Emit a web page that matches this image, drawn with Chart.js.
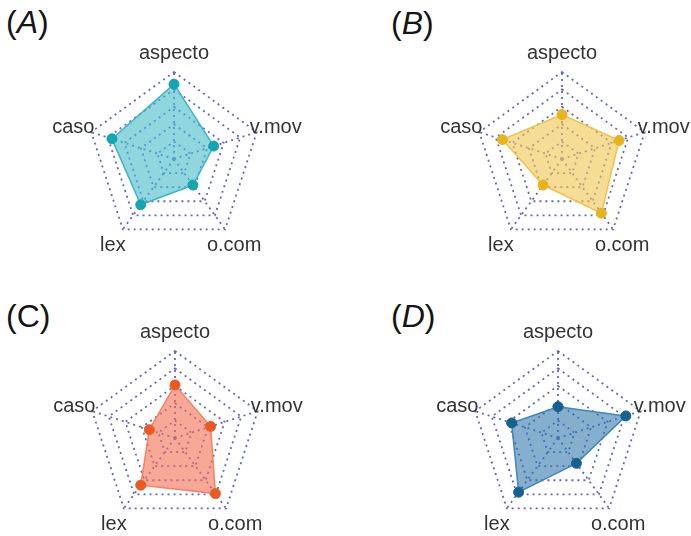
<!DOCTYPE html>
<html>
<head>
<meta charset="utf-8">
<script src="https://cdn.jsdelivr.net/npm/chart.js@4.4.0/dist/chart.umd.min.js"></script>
<style>
    html, body { margin: 0; padding: 0; background: #fff; }
    #wrap { position: relative; width: 691px; height: 536px; overflow: hidden; background: #fff; }
    canvas { position: absolute; }
    .tag { position: absolute; font-family: Arial, "Liberation Sans", sans-serif; font-size: 32px; line-height: 32px; color: #151515; }
</style>
</head>
<body>
<div id="wrap">
    <div class="tag" style="left:6px;top:6px">(<i>A</i>)</div>
    <div class="tag" style="left:391px;top:7px">(<i>B</i>)</div>
    <div class="tag" style="left:6px;top:300px">(C)</div>
    <div class="tag" style="left:391px;top:300px">(<i>D</i>)</div>
    <canvas id="chartA" width="264" height="264" style="left:42px;top:27px"></canvas>
    <canvas id="chartB" width="264" height="264" style="left:430px;top:27px"></canvas>
    <canvas id="chartC" width="264" height="264" style="left:43px;top:306px"></canvas>
    <canvas id="chartD" width="264" height="264" style="left:426px;top:306px"></canvas>
</div>
<script>
// axes of every radar, clockwise from the top
var axisLabels = ['aspecto', 'v.mov', 'o.com', 'lex', 'caso'];
var gridTicks = [0, 0.2, 0.4, 0.6, 0.8, 1.0];

// values (0..1)
var valuesA = [0.86, 0.48, 0.37, 0.65, 0.75];
var valuesB = [0.51, 0.69, 0.77, 0.37, 0.72];
var valuesC = [0.61, 0.43, 0.79, 0.67, 0.31];
var valuesD = [0.36, 0.82, 0.36, 0.77, 0.56];

var gridColor = '#6367c4';

// label offsets from each outer vertex (x, y)
var labelOffsets = [[0, -19], [19, -5], [9, 16], [-10, 16], [-18, -5]];

var axisLabelPlugin = {
    id: 'axisLabels',
    afterDraw: function(chart) {
        var scale = chart.scales.r;
        var ctx = chart.ctx;
        ctx.save();
        ctx.font = '20px Arial, "Liberation Sans", sans-serif';
        ctx.fillStyle = '#333';
        ctx.textAlign = 'center';
        ctx.textBaseline = 'middle';
        chart.data.labels.forEach(function(label, i) {
            var pos = scale.getPointPosition(i, scale.drawingArea);
            ctx.fillText(label, pos.x + labelOffsets[i][0], pos.y + labelOffsets[i][1]);
        });
        ctx.restore();
    }
};

function drawRadar(canvasId, values, fill, line, dot) {
    var ctx = document.getElementById(canvasId).getContext('2d');
    return new Chart(ctx, {
        type: 'radar',
        data: {
            labels: axisLabels,
            datasets: [{
                data: values,
                backgroundColor: fill,
                borderColor: line,
                borderWidth: 1.5,
                pointRadius: 5,
                pointBackgroundColor: dot,
                pointBorderColor: dot,
                pointBorderWidth: 1
            }]
        },
        options: {
            responsive: false,
            animation: false,
            devicePixelRatio: 1,
            layout: { padding: 45 },
            plugins: {
                legend: { display: false },
                tooltip: { enabled: false }
            },
            scales: {
                r: {
                    min: gridTicks[0],
                    max: gridTicks[gridTicks.length - 1],
                    ticks: { display: false, stepSize: gridTicks[1] - gridTicks[0] },
                    pointLabels: { display: false },
                    grid: { color: gridColor, lineWidth: 1.8 },
                    border: { dash: [2, 4] },
                    angleLines: { color: gridColor, lineWidth: 1.8, borderDash: [2, 4] }
                }
            }
        },
        plugins: [axisLabelPlugin]
    });
}

drawRadar('chartA', valuesA, 'rgba(70, 186, 200, 0.6)', '#3bb7c4', '#14a5b2');
drawRadar('chartB', valuesB, 'rgba(240, 198, 80, 0.6)', '#efc24a', '#e7b41c');
drawRadar('chartC', valuesC, 'rgba(244, 110, 80, 0.6)', '#f4825e', '#ec5a22');
drawRadar('chartD', valuesD, 'rgba(46, 118, 170, 0.58)', '#3f86ba', '#15628f');
</script>
</body>
</html>
